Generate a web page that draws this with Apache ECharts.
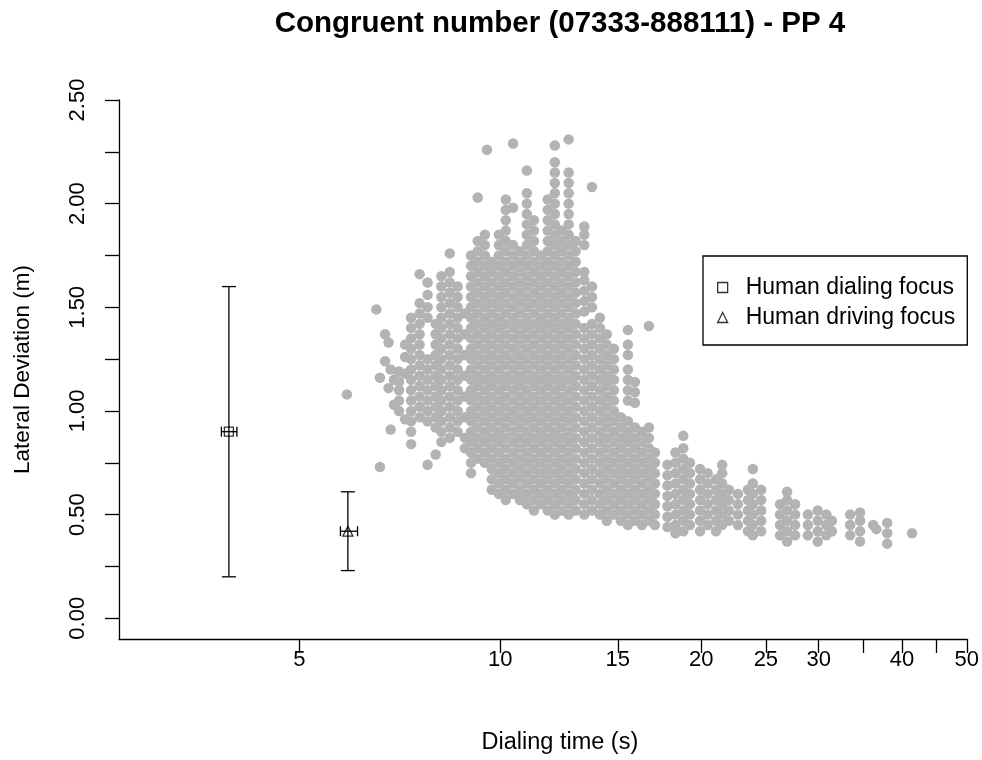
<!DOCTYPE html>
<html><head><meta charset="utf-8">
<script src="https://cdn.jsdelivr.net/npm/echarts@6/dist/echarts.min.js"></script>
<style>html,body{margin:0;padding:0;background:#fff}#c{width:982px;height:760px}</style>
</head><body><div id="c"></div>
<script>
const titleText = 'Congruent number (07333-888111) - PP 4';
const xName = 'Dialing time (s)';
const yName = 'Lateral Deviation (m)';
const xTicks = [5, 10, 15, 20, 25, 30, 35, 40, 45, 50];
const xLabels = [5, 10, 15, 20, 25, 30, 40, 50];
const yTicks = [0, 0.25, 0.5, 0.75, 1, 1.25, 1.5, 1.75, 2, 2.25, 2.5];
const yLabels = [0, 0.5, 1, 1.5, 2, 2.5];

// [x, y, xLow, xHigh, yLow, yHigh]
const dialFocus = [3.92, 0.90, 3.82, 4.03, 0.20, 1.60];
const driveFocus = [5.91, 0.42, 5.76, 6.11, 0.23, 0.61];

// model runs: [dialing time, [lateral deviations]]
const cloudLeft = [
  [5.89, [1.08]],
  [6.52, [1.49]],
  [6.60, [0.73, 1.16]],
  [6.72, [1.24, 1.37]],
  [6.80, [1.11, 1.33]],
  [6.85, [0.91, 1.20]],
  [6.93, [1.03, 1.15]],
  [7.05, [1.00, 1.05, 1.10, 1.14, 1.19]],
  [7.20, [0.96, 1.18, 1.26, 1.32]],
  [7.35, [0.84, 0.90, 0.95, 1.00, 1.05, 1.10, 1.15, 1.20, 1.25, 1.30, 1.35, 1.40, 1.45]],
  [7.57, [0.97, 1.02, 1.07, 1.12, 1.17, 1.22, 1.27, 1.32, 1.37, 1.42, 1.47, 1.52, 1.66]],
  [7.78, [0.74, 0.95, 1.00, 1.05, 1.10, 1.15, 1.20, 1.25, 1.45, 1.50, 1.56, 1.62]],
  [8.00, [0.79, 0.92, 0.97, 1.02, 1.07, 1.12, 1.17, 1.22, 1.27, 1.32, 1.37, 1.42]],
  [8.16, [0.85, 0.90, 0.95, 1.00, 1.05, 1.10, 1.15, 1.20, 1.25, 1.30, 1.35, 1.40, 1.45, 1.50, 1.55, 1.60, 1.65]],
  [8.40, [0.87, 0.92, 0.97, 1.02, 1.07, 1.12, 1.17, 1.22, 1.27, 1.32, 1.37, 1.42, 1.47, 1.52, 1.57, 1.62, 1.67, 1.76]],
  [8.63, [0.90, 0.95, 1.00, 1.05, 1.10, 1.15, 1.20, 1.25, 1.30, 1.35, 1.40, 1.45, 1.50, 1.55, 1.60]],
  [8.85, [0.82, 0.87, 0.97, 1.07, 1.17, 1.27, 1.37, 1.47]]
];
const cloudCore = [
  [9.04, [0.70, 0.75, 0.80, 0.85, 0.90, 0.95, 1.00, 1.05, 1.10, 1.15, 1.20, 1.25, 1.30, 1.35, 1.40, 1.45, 1.50, 1.55, 1.60, 1.65, 1.70, 1.75]],
  [9.25, [0.77, 0.82, 0.87, 0.92, 0.97, 1.02, 1.07, 1.12, 1.17, 1.22, 1.27, 1.32, 1.37, 1.42, 1.47, 1.52, 1.57, 1.62, 1.67, 1.72, 1.77, 1.82, 2.03]],
  [9.48, [0.75, 0.80, 0.85, 0.90, 0.95, 1.00, 1.05, 1.10, 1.15, 1.20, 1.25, 1.30, 1.35, 1.40, 1.45, 1.50, 1.55, 1.60, 1.65, 1.70, 1.75, 1.80, 1.85]],
  [9.55, [2.26]],
  [9.71, [0.62, 0.67, 0.72, 0.77, 0.82, 0.87, 0.92, 0.97, 1.02, 1.07, 1.12, 1.17, 1.22, 1.27, 1.32, 1.37, 1.42, 1.47, 1.52, 1.57, 1.62, 1.67, 1.72]],
  [9.95, [0.60, 0.65, 0.70, 0.75, 0.80, 0.85, 0.90, 0.95, 1.00, 1.05, 1.10, 1.15, 1.20, 1.25, 1.30, 1.35, 1.40, 1.45, 1.50, 1.55, 1.60, 1.65, 1.70, 1.75, 1.80, 1.85]],
  [10.19, [0.57, 0.62, 0.67, 0.72, 0.77, 0.82, 0.87, 0.92, 0.97, 1.02, 1.07, 1.12, 1.17, 1.22, 1.27, 1.32, 1.37, 1.42, 1.47, 1.52, 1.57, 1.62, 1.67, 1.72, 1.77, 1.82, 1.87, 1.92, 1.97, 2.02]],
  [10.45, [0.60, 0.65, 0.70, 0.75, 0.80, 0.85, 0.90, 0.95, 1.00, 1.05, 1.10, 1.15, 1.20, 1.25, 1.30, 1.35, 1.40, 1.45, 1.50, 1.55, 1.60, 1.65, 1.70, 1.75, 1.80, 1.98, 2.29]],
  [10.70, [0.57, 0.62, 0.67, 0.72, 0.77, 0.82, 0.87, 0.92, 0.97, 1.02, 1.07, 1.12, 1.17, 1.22, 1.27, 1.32, 1.37, 1.42, 1.47, 1.52, 1.57, 1.62, 1.67, 1.72, 1.77]],
  [10.96, [0.55, 0.60, 0.65, 0.70, 0.75, 0.80, 0.85, 0.90, 0.95, 1.00, 1.05, 1.10, 1.15, 1.20, 1.25, 1.30, 1.35, 1.40, 1.45, 1.50, 1.55, 1.60, 1.65, 1.70, 1.75, 1.80, 1.85, 1.90, 1.95, 2.00, 2.05, 2.16]],
  [11.23, [0.52, 0.57, 0.62, 0.67, 0.72, 0.77, 0.82, 0.87, 0.92, 0.97, 1.02, 1.07, 1.12, 1.17, 1.22, 1.27, 1.32, 1.37, 1.42, 1.47, 1.52, 1.57, 1.62, 1.67, 1.72, 1.77, 1.82, 1.87, 1.92]],
  [11.50, [0.55, 0.60, 0.65, 0.70, 0.75, 0.80, 0.85, 0.90, 0.95, 1.00, 1.05, 1.10, 1.15, 1.20, 1.25, 1.30, 1.35, 1.40, 1.45, 1.50, 1.55, 1.60, 1.65, 1.70, 1.75]],
  [11.78, [0.52, 0.57, 0.62, 0.67, 0.72, 0.77, 0.82, 0.87, 0.92, 0.97, 1.02, 1.07, 1.12, 1.17, 1.22, 1.27, 1.32, 1.37, 1.42, 1.47, 1.52, 1.57, 1.62, 1.67, 1.72, 1.77, 1.82, 1.87, 1.92, 1.97, 2.02]],
  [12.07, [0.50, 0.55, 0.60, 0.65, 0.70, 0.75, 0.80, 0.85, 0.90, 0.95, 1.00, 1.05, 1.10, 1.15, 1.20, 1.25, 1.30, 1.35, 1.40, 1.45, 1.50, 1.55, 1.60, 1.65, 1.70, 1.75, 1.80, 1.85, 1.90, 1.95, 2.00, 2.05, 2.10, 2.15, 2.20, 2.28]],
  [12.36, [0.52, 0.57, 0.62, 0.67, 0.72, 0.77, 0.82, 0.87, 0.92, 0.97, 1.02, 1.07, 1.12, 1.17, 1.22, 1.27, 1.32, 1.37, 1.42, 1.47, 1.52, 1.57, 1.62, 1.67, 1.72, 1.77, 1.82, 1.87]],
  [12.66, [0.50, 0.55, 0.60, 0.65, 0.70, 0.75, 0.80, 0.85, 0.90, 0.95, 1.00, 1.05, 1.10, 1.15, 1.20, 1.25, 1.30, 1.35, 1.40, 1.45, 1.50, 1.55, 1.60, 1.65, 1.70, 1.75, 1.80, 1.85, 1.90, 1.95, 2.00, 2.05, 2.10, 2.15, 2.31]],
  [12.97, [0.52, 0.57, 0.62, 0.67, 0.72, 0.77, 0.82, 0.87, 0.92, 0.97, 1.02, 1.07, 1.12, 1.17, 1.22, 1.27, 1.32, 1.37, 1.42, 1.47, 1.52, 1.57, 1.62, 1.67, 1.72, 1.77, 1.82]]
];
const cloudRight = [
  [13.36, [0.50, 0.55, 0.60, 0.65, 0.70, 0.75, 0.80, 0.85, 0.90, 0.95, 1.00, 1.05, 1.10, 1.15, 1.20, 1.25, 1.30, 1.35, 1.40, 1.48, 1.53, 1.58, 1.63, 1.67, 1.80, 1.85, 1.89]],
  [13.72, [0.52, 0.57, 0.62, 0.67, 0.72, 0.77, 0.82, 0.87, 0.92, 0.97, 1.02, 1.07, 1.12, 1.17, 1.22, 1.27, 1.32, 1.37, 1.42, 1.50, 1.55, 1.60, 2.08]],
  [14.10, [0.50, 0.55, 0.60, 0.65, 0.70, 0.75, 0.80, 0.85, 0.90, 0.95, 1.00, 1.05, 1.10, 1.15, 1.20, 1.25, 1.30, 1.35, 1.40, 1.45]],
  [14.44, [0.47, 0.52, 0.57, 0.62, 0.67, 0.72, 0.77, 0.82, 0.87, 0.92, 0.97, 1.02, 1.07, 1.12, 1.17, 1.22, 1.27, 1.32, 1.37]],
  [14.80, [0.50, 0.55, 0.60, 0.65, 0.70, 0.75, 0.80, 0.85, 0.90, 0.95, 1.00, 1.05, 1.10, 1.15, 1.20, 1.25, 1.30]],
  [15.16, [0.47, 0.52, 0.57, 0.62, 0.67, 0.72, 0.77, 0.82, 0.87, 0.92, 0.97]],
  [15.53, [0.45, 0.50, 0.55, 0.60, 0.65, 0.70, 0.75, 0.80, 0.85, 0.90, 0.95, 1.05, 1.10, 1.15, 1.20, 1.27, 1.32, 1.39]],
  [15.91, [0.47, 0.52, 0.57, 0.62, 0.67, 0.72, 0.77, 0.82, 0.87, 0.92, 1.04, 1.09, 1.14]],
  [16.30, [0.45, 0.50, 0.55, 0.60, 0.65, 0.70, 0.75, 0.80, 0.85, 0.90]],
  [16.70, [0.47, 0.52, 0.57, 0.62, 0.67, 0.72, 0.77, 0.82, 0.87, 0.92, 1.41]],
  [17.05, [0.45, 0.50, 0.55, 0.60, 0.65, 0.70, 0.75, 0.80]]
];
const cloudTail = [
  [17.80, [0.44, 0.49, 0.54, 0.59, 0.64, 0.69, 0.74]],
  [18.30, [0.41, 0.45, 0.50, 0.55, 0.60, 0.65, 0.70, 0.75, 0.80]],
  [18.80, [0.42, 0.47, 0.52, 0.57, 0.62, 0.67, 0.72, 0.77, 0.82, 0.88]],
  [19.24, [0.45, 0.50, 0.55, 0.60, 0.65, 0.70, 0.75]],
  [19.92, [0.42, 0.47, 0.52, 0.57, 0.62, 0.67, 0.72]],
  [20.45, [0.45, 0.50, 0.55, 0.60, 0.65, 0.70]],
  [21.05, [0.42, 0.47, 0.52, 0.57, 0.62, 0.67]],
  [21.50, [0.45, 0.50, 0.55, 0.60, 0.65, 0.70, 0.74]],
  [22.00, [0.47, 0.52, 0.57, 0.62]],
  [22.70, [0.45, 0.50, 0.55, 0.60]],
  [23.50, [0.42, 0.47, 0.52, 0.57, 0.62]],
  [23.90, [0.40, 0.45, 0.50, 0.55, 0.60, 0.65, 0.72]],
  [24.60, [0.42, 0.47, 0.52, 0.57, 0.62]],
  [26.25, [0.40, 0.45, 0.50, 0.55]],
  [26.90, [0.37, 0.42, 0.47, 0.52, 0.57, 0.61]],
  [27.65, [0.40, 0.45, 0.50, 0.55]],
  [28.90, [0.40, 0.45, 0.50]],
  [29.90, [0.37, 0.42, 0.47, 0.52]],
  [30.80, [0.40, 0.45, 0.50]],
  [31.40, [0.42, 0.47]],
  [33.44, [0.40, 0.45, 0.50]],
  [34.60, [0.37, 0.42, 0.47, 0.51]],
  [36.20, [0.45]],
  [36.60, [0.43]],
  [38.00, [0.36, 0.41, 0.46]],
  [41.40, [0.41]]
];

const FONT = '"Liberation Sans", Arial, sans-serif';
function toPoints(cols) {
  const out = [];
  cols.forEach(c => c[1].forEach(y => out.push([c[0], y])));
  return out;
}
const cloudPoints = [].concat(toPoints(cloudLeft), toPoints(cloudCore), toPoints(cloudRight), toPoints(cloudTail));

const chart = echarts.init(document.getElementById('c'), null, {renderer: 'canvas'});
const lineSt = {color: '#000', width: 1.3};
chart.setOption({
  animation: false,
  backgroundColor: '#fff',
  title: {
    text: titleText, left: 555, top: 4, textAlign: 'center',
    textStyle: {fontSize: 29.5, fontWeight: 'bold', color: '#000', fontFamily: FONT}
  },
  grid: {left: 119, right: 15, top: 100, bottom: 118, containLabel: false},
  legend: {
    orient: 'vertical', left: 703, top: 256,
    padding: [20, 12, 16, 14], borderColor: '#000', borderWidth: 1.3,
    itemGap: 7, itemWidth: 10, itemHeight: 10,
    textStyle: {fontSize: 23, color: '#000', fontFamily: FONT, padding: [0, 0, 0, 13], lineHeight: 22},
    data: [
      {name: 'Human dialing focus', icon: 'rect', itemStyle: {color: 'rgba(0,0,0,0)', borderColor: '#000', borderWidth: 1.3}},
      {name: 'Human driving focus', icon: 'triangle', itemStyle: {color: 'rgba(0,0,0,0)', borderColor: '#000', borderWidth: 1.3}}
    ]
  },
  xAxis: {
    type: 'log', logBase: 10, min: 2.683, max: 50,
    axisLine: {show: true, onZero: false, lineStyle: lineSt},
    axisTick: {show: true, customValues: xTicks, length: 14, lineStyle: lineSt},
    axisLabel: {show: true, customValues: xLabels, margin: 10, fontSize: 22, color: '#000', fontFamily: FONT,
      formatter: v => String(v)},
    splitLine: {show: false}, minorTick: {show: false},
    name: xName, nameLocation: 'middle', nameGap: 92,
    nameTextStyle: {fontSize: 23.5, color: '#000', fontFamily: FONT, padding: [0, 0, 0, 34]}
  },
  yAxis: {
    type: 'value', min: -0.1, max: 2.5,
    axisLine: {show: true, onZero: false, lineStyle: lineSt},
    axisTick: {show: true, customValues: yTicks, length: 14, lineStyle: lineSt},
    axisLabel: {show: true, customValues: yLabels, rotate: 90, margin: 30, fontSize: 22, color: '#000', fontFamily: FONT,
      formatter: v => Number(v).toFixed(2)},
    splitLine: {show: false},
    name: yName, nameLocation: 'middle', nameGap: 85,
    nameTextStyle: {fontSize: 22.5, color: '#000', fontFamily: FONT}
  },
  series: [
    {
      name: 'model', type: 'scatter', data: cloudPoints, symbol: 'circle', symbolSize: 10.5,
      itemStyle: {color: '#b3b3b3', opacity: 1}, silent: true, z: 1, large: false, progressive: 0
    },
    {
      name: 'errorbars', type: 'custom', z: 3, silent: true,
      data: [dialFocus, driveFocus],
      encode: {x: [0, 2, 3], y: [1, 4, 5]},
      renderItem: function (params, api) {
        const x = api.value(0), y = api.value(1);
        const top = api.coord([x, api.value(5)]);
        const bot = api.coord([x, api.value(4)]);
        const lf = api.coord([api.value(2), y]);
        const rt = api.coord([api.value(3), y]);
        const cw = 7, ch = 5;
        const st = {stroke: '#000', lineWidth: 1.3};
        const L = (x1, y1, x2, y2) => ({type: 'line', shape: {x1, y1, x2, y2}, style: st});
        return {type: 'group', children: [
          L(top[0], top[1], bot[0], bot[1]),
          L(top[0] - cw, top[1], top[0] + cw, top[1]),
          L(bot[0] - cw, bot[1], bot[0] + cw, bot[1]),
          L(lf[0], lf[1], rt[0], rt[1]),
          L(lf[0], lf[1] - ch, lf[0], lf[1] + ch),
          L(rt[0], rt[1] - ch, rt[0], rt[1] + ch)
        ]};
      }
    },
    {
      name: 'Human dialing focus', type: 'scatter', z: 4, data: [[dialFocus[0], dialFocus[1]]],
      symbol: 'rect', symbolSize: 9,
      itemStyle: {color: 'rgba(0,0,0,0)', borderColor: '#000', borderWidth: 1.3}
    },
    {
      name: 'Human driving focus', type: 'scatter', z: 4, data: [[driveFocus[0], driveFocus[1]]],
      symbol: 'triangle', symbolSize: 10,
      itemStyle: {color: 'rgba(0,0,0,0)', borderColor: '#000', borderWidth: 1.3}
    }
  ]
});
</script>
</body></html>
